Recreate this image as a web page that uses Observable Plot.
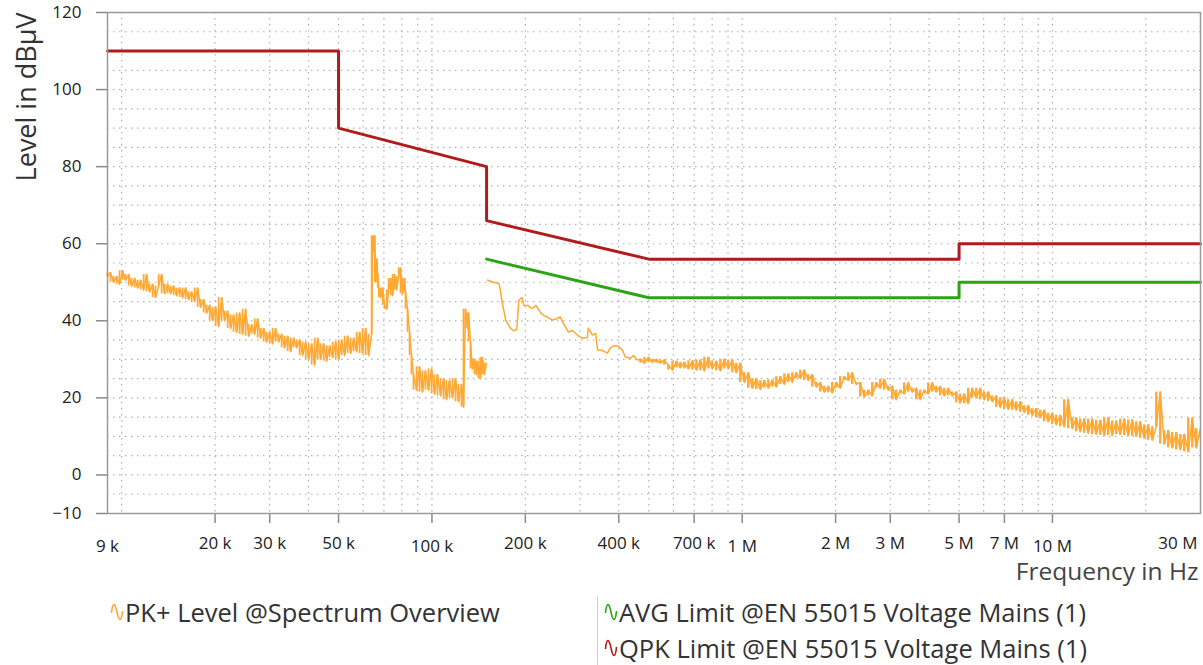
<!DOCTYPE html>
<html>
<head>
<meta charset="utf-8">
<script src="https://cdn.jsdelivr.net/npm/d3@7"></script>
<script src="https://cdn.jsdelivr.net/npm/@observablehq/plot@0.6"></script>
<style>
  html, body { margin: 0; padding: 0; background: #fff; }
  #wrap { position: relative; width: 1203px; height: 665px; overflow: hidden; font-family: "Open Sans", sans-serif; }
  .leg { position: absolute; font-size: 25.5px; line-height: 26px; height: 26px; color: #333; white-space: nowrap; display: flex; align-items: center; }
  .leg svg { margin-right: 1px; }
  #sep { position: absolute; left: 597px; top: 596px; width: 1px; height: 69px; background: #cfcfcf; }
</style>
</head>
<body>
<div id="wrap"></div>
<script>
// ---- Data (frequencies in kHz, levels in dBµV) ----
const qpkFreqKHz = [9, 50, 50, 150, 150, 500, 5000, 5000, 30000];
const qpkLevel   = [110, 110, 90, 80, 66, 56, 56, 60, 60];
const avgFreqKHz = [150, 500, 5000, 5000, 30000];
const avgLevel   = [56, 46, 46, 50, 50];

// PK+ spectrum, 9 kHz – 150 kHz band
const pkLowBand = [
  [9.00,51.5],[9.20,52.5],[9.41,50],[9.63,51.5],[9.84,49.5],[10.07,53],[10.29,50.5],[10.53,52],[10.76,49],[11.01,51],
  [11.26,48.5],[11.51,50.5],[11.77,48],[12.03,52],[12.30,47.5],[12.58,49.5],[12.86,46],[13.15,49],[13.45,52],[13.75,47],
  [14.06,49.5],[14.38,47],[14.70,49],[15.03,46.5],[15.37,48.5],[15.72,46],[16.07,48.5],[16.43,45.5],[16.80,47.5],[17.18,45],
  [17.57,48.5],[17.96,43.5],[18.37,45.5],[18.78,42],[19.21,44],[19.64,40],[20.08,43.5],[20.53,38.5],[21.00,46],[21.47,40],
  [21.95,42.5],[22.45,38],[22.95,41.5],[23.47,37],[24.00,42],[24.54,36.5],[25.09,43],[25.66,36],[26.24,39],[26.83,36.5],
  [27.43,40.5],[28.05,35.5],[28.68,38],[29.33,34.5],[29.99,37],[30.66,34],[31.35,38],[32.06,34.5],[32.78,36.5],[33.52,33],
  [34.27,36],[35.04,32],[35.83,35.5],[36.64,33],[37.47,35],[38.31,31],[39.17,34.5],[40.05,30],[40.96,34],[41.88,28.5],
  [42.82,35.5],[43.78,30],[44.77,34],[45.78,29.5],[46.81,33.5],[47.86,30.5],[48.94,34.5],[50.04,30],[51.17,35],[52.32,31],
  [53.50,36],[54.70,31.5],[55.93,35.5],[57.19,32],[58.48,37],[59.79,31.5],[61.14,38],[62.51,31],[63.92,36.5],
  [64.4,62],[64.9,58],[65.4,62],[65.9,50],[66.4,56],[66.9,52],[67.4,48.5],[68.4,46],[69.4,48.5],[70.4,44],
  [71.5,43],[72.5,48],[73.6,51],[74.7,46.5],[75.8,52],[76.9,48],[78.1,51.5],[79.2,53.7],[80.4,47],[81.6,51],
  [82.2,47.5],[83.4,43],[84.7,37],[85.9,31],[87.2,26],
  [89.2,22],[91.2,28],[93.2,21.5],[95.3,27],[97.5,22],[99.7,27.5],[101.9,21],[104.2,26],[106.6,20.5],[109.0,25],
  [111.4,19.5],[113.9,24.5],[116.5,20],[119.1,25],[121.8,19],[124.6,23.5],[126.4,17.6],[128.3,43],[130.3,38],[131.2,42],
  [133.1,34.5],[135.1,27.5],[137.1,30],[139.1,26],[141.2,29.5],[143.3,25],[145.4,30.5],[147.6,26],[149.8,29]
];

// PK+ spectrum, 150 kHz – 30 MHz band
const pkHighBand = [
  [151,50.6],[157,50],[163,49.8],[165,49.3],[168.6,44.6],[172.9,40.2],[179.5,38],[183.6,37.4],[187.7,37.8],[190.6,45.4],
  [194.9,46],[197.9,44],[203.9,44],[208.5,43.3],[211.6,43.3],[216.3,44],[224.4,42],[230.2,41.3],[235.5,41],[244.3,40.2],
  [250,40.4],[259,41],[265,39.4],[275,37.1],[284,37.5],[294,36.3],[305,35.5],[317,35.7],[319,38.1],[329,36.3],
  [337,36.7],[342,32.4],[354,32.3],[368,31.6],[376,33],[385,33.5],[399,33.4],[411,32.4],[420,30.6],[436,30.3],
  [446,31],[459,29.8],
  [470,30],[484,29],[498.5,30.5],[513.5,29.2],[529,30],[545,29],[561,29.8],[578,28.5],[596,27.2],[614,29.5],
  [632,27.8],[651,29.2],[671,27.5],[691,29.6],[712,27.2],[733,29.8],[755,27],[778,30.5],[801,27.5],[825,29.5],
  [850,27],[876,30],[902,27.5],[929,29.8],[957,26.5],[986,29],[1016,24],[1046,26.5],[1078,22.5],[1110,25],
  [1144,22.2],[1178,24.5],[1214,22.5],[1250,24.6],[1288,22.8],[1327,25.5],[1367,23.5],[1408,26.2],[1450,24],[1494,26.5],
  [1539,25],[1585,27.2],[1633,24.5],[1682,26],[1733,22.8],[1785,24],[1839,21.5],[1894,23],[1951,21.3],[2010,24],
  [2070,22.5],[2133,25.5],[2197,24.5],[2263,26.5],[2331,23.5],[2401,24],[2474,20.2],[2548,22],[2625,20.5],[2704,24],
  [2785,22.5],[2869,24.8],[2956,22],[3045,23],[3136,19.5],[3231,22],[3328,21],[3428,23.9],[3531,21.5],[3638,22.5],
  [3747,19.5],[3860,22],[3977,21],[4096,23.9],[4220,21.5],[4347,23],[4478,20.5],[4613,22.5],[4752,20.5],[4895,21.5],
  [5042,18.7],[5194,21],[5351,18.5],[5512,22.5],[5678,20],[5849,22.5],[6025,19.5],[6207,21.5],[6394,19],[6586,20.5],
  [6785,17.5],[6989,20],[7200,17],[7417,19.5],[7640,16.8],[7870,19],[8107,16.2],[8352,18],[8603,15.5],[8863,17.2],
  [9130,14.8],[9405,16.8],[9688,13.8],[9980,16],[10281,13],[10591,15.5],[10910,12.5],[11239,19.5],[11578,12],[11927,14.8],
  [12286,11.2],[12657,14.5],[13038,10.8],[13431,14.5],[13836,10.5],[14253,14.2],[14683,10.3],[15126,14.8],[15582,10.2],[16052,14],
  [16535,10.5],[17034,14.5],[17547,10.2],[18076,14.3],[18621,10],[19183,13.8],[19761,9.5],[20357,13],[20970,9],[21603,12.5],
  [22254,21.5],[22925,8],[23616,11.5],[24328,7],[25061,11],[25817,6.5],[26595,10.5],[27397,6],[28223,14.8],[29074,7],
  [29950,12]
];

const xTicksMinorHz = [2e4, 3e4, 5e4, 2e5, 4e5, 7e5, 2e6, 3e6, 5e6, 7e6];
const xTicksMajorHz = [9e3, 1e5, 1e6, 1e7];
const xTickEndHz = [3e7];
const yTicks = [120, 100, 80, 60, 40, 20, 0, -10];
const xGridHz = [1e4,2e4,3e4,4e4,5e4,6e4,7e4,8e4,9e4,
                 1e5,2e5,3e5,4e5,5e5,6e5,7e5,8e5,9e5,
                 1e6,2e6,3e6,4e6,5e6,6e6,7e6,8e6,9e6,
                 1e7,2e7];
const yGrid = [-5,0,5,10,15,20,25,30,35,40,45,50,55,60,65,70,75,80,85,90,95,100,105,110,115];

const legendItems = [
  {label: "PK+ Level @Spectrum Overview", color: "#ffa833", left: 110, top: 599},
  {label: "AVG Limit @EN 55015 Voltage Mains (1)", color: "#2aa514", left: 604, top: 599},
  {label: "QPK Limit @EN 55015 Voltage Mains (1)", color: "#b11b1b", left: 604, top: 635}
];

// ---- Build ----
const toRows = arr => arr.map(([k, v]) => ({f: k * 1000, v}));
const qpk = qpkFreqKHz.map((k, i) => ({f: k * 1000, v: qpkLevel[i]}));
const avg = avgFreqKHz.map((k, i) => ({f: k * 1000, v: avgLevel[i]}));
const low = toRows(pkLowBand);
const high = toRows(pkHighBand);
// vertical spans between consecutive samples of the noisy parts (peak-hold band look)
const spans = rows => rows.slice(0, -1).map((d, i) => ({f: d.f, a: d.v, b: rows[i + 1].v}));
const lowSpans = spans(low);
const highSpans = spans(high.filter(d => d.f >= 465e3));
const fmt = v => v >= 1e6 ? `${v / 1e6} M` : `${v / 1e3} k`;
const tickStyle = {stroke: "#8a8a8a", strokeWidth: 1.5, text: null, label: null, tickSize: 10};
const labelStyle = {x: d => d, text: fmt, frameAnchor: "bottom", lineAnchor: "top", fontSize: 17, fill: "#222"};

const chart = Plot.plot({
  width: 1203,
  height: 590,
  marginLeft: 107,
  marginRight: 3,
  marginTop: 12,
  marginBottom: 77,
  style: {fontFamily: "Open Sans, sans-serif", background: "white", overflow: "visible"},
  x: {type: "log", domain: [9e3, 30e6]},
  y: {domain: [-10, 120]},
  marks: [
    Plot.ruleX(xGridHz, {stroke: "#b0b0b0", strokeWidth: 1.2, strokeDasharray: "1.5,4.5"}),
    Plot.ruleY(yGrid, {stroke: "#b0b0b0", strokeWidth: 1.2, strokeDasharray: "1.5,4.5"}),
    Plot.axisY({ticks: yTicks, tickSize: 11, tickPadding: 15, stroke: "#8a8a8a", strokeWidth: 1.5, fill: "#222", fontSize: 17, label: null}),
    Plot.axisX({ticks: xTicksMinorHz.concat([1e5, 1e6, 1e7]), ...tickStyle}),
    Plot.text(xTicksMinorHz, {...labelStyle, dy: 23.5}),
    Plot.text(xTicksMajorHz, {...labelStyle, dy: 26}),
    Plot.text(xTickEndHz, {...labelStyle, dy: 23.5, textAnchor: "end", dx: -3}),
    Plot.ruleX(lowSpans, {x: "f", y1: "a", y2: "b", stroke: "#ffa833", strokeWidth: 1.8}),
    Plot.ruleX(highSpans, {x: "f", y1: "a", y2: "b", stroke: "#ffa833", strokeWidth: 2.4}),
    Plot.line(low, {x: "f", y: "v", stroke: "#ffa833", strokeWidth: 1.5}),
    Plot.line(high, {x: "f", y: "v", stroke: "#ffa833", strokeWidth: 1.5}),
    Plot.line(avg, {x: "f", y: "v", stroke: "#2aa514", strokeWidth: 3}),
    Plot.line(qpk, {x: "f", y: "v", stroke: "#b11b1b", strokeWidth: 3}),
    Plot.frame({stroke: "#9a9a9a", strokeWidth: 1.5}),
    Plot.text(["Level in dBµV"], {text: d => d, frameAnchor: "top-left", rotate: -90, textAnchor: "end", dx: -91, fontSize: 27, fill: "#333"}),
    Plot.text(["Frequency in Hz"], {text: d => d, frameAnchor: "bottom-right", textAnchor: "end", dx: -2, dy: 66, fontSize: 24.5, fill: "#444"})
  ]
});

const wrap = document.getElementById("wrap");
wrap.appendChild(chart);
const sep = document.createElement("div");
sep.id = "sep";
wrap.appendChild(sep);
for (const it of legendItems) {
  const d = document.createElement("div");
  d.className = "leg";
  d.style.left = it.left + "px";
  d.style.top = it.top + "px";
  d.innerHTML = `<svg width="14" height="26" viewBox="0 0 14 26"><path d="M1.5,14 C2.5,3 5,3 7,13 C9,23 11.5,23 12.5,12" fill="none" stroke="${it.color}" stroke-width="1.6"/></svg>`;
  const s = document.createElement("span");
  s.textContent = it.label;
  d.appendChild(s);
  wrap.appendChild(d);
}
</script>
</body>
</html>
